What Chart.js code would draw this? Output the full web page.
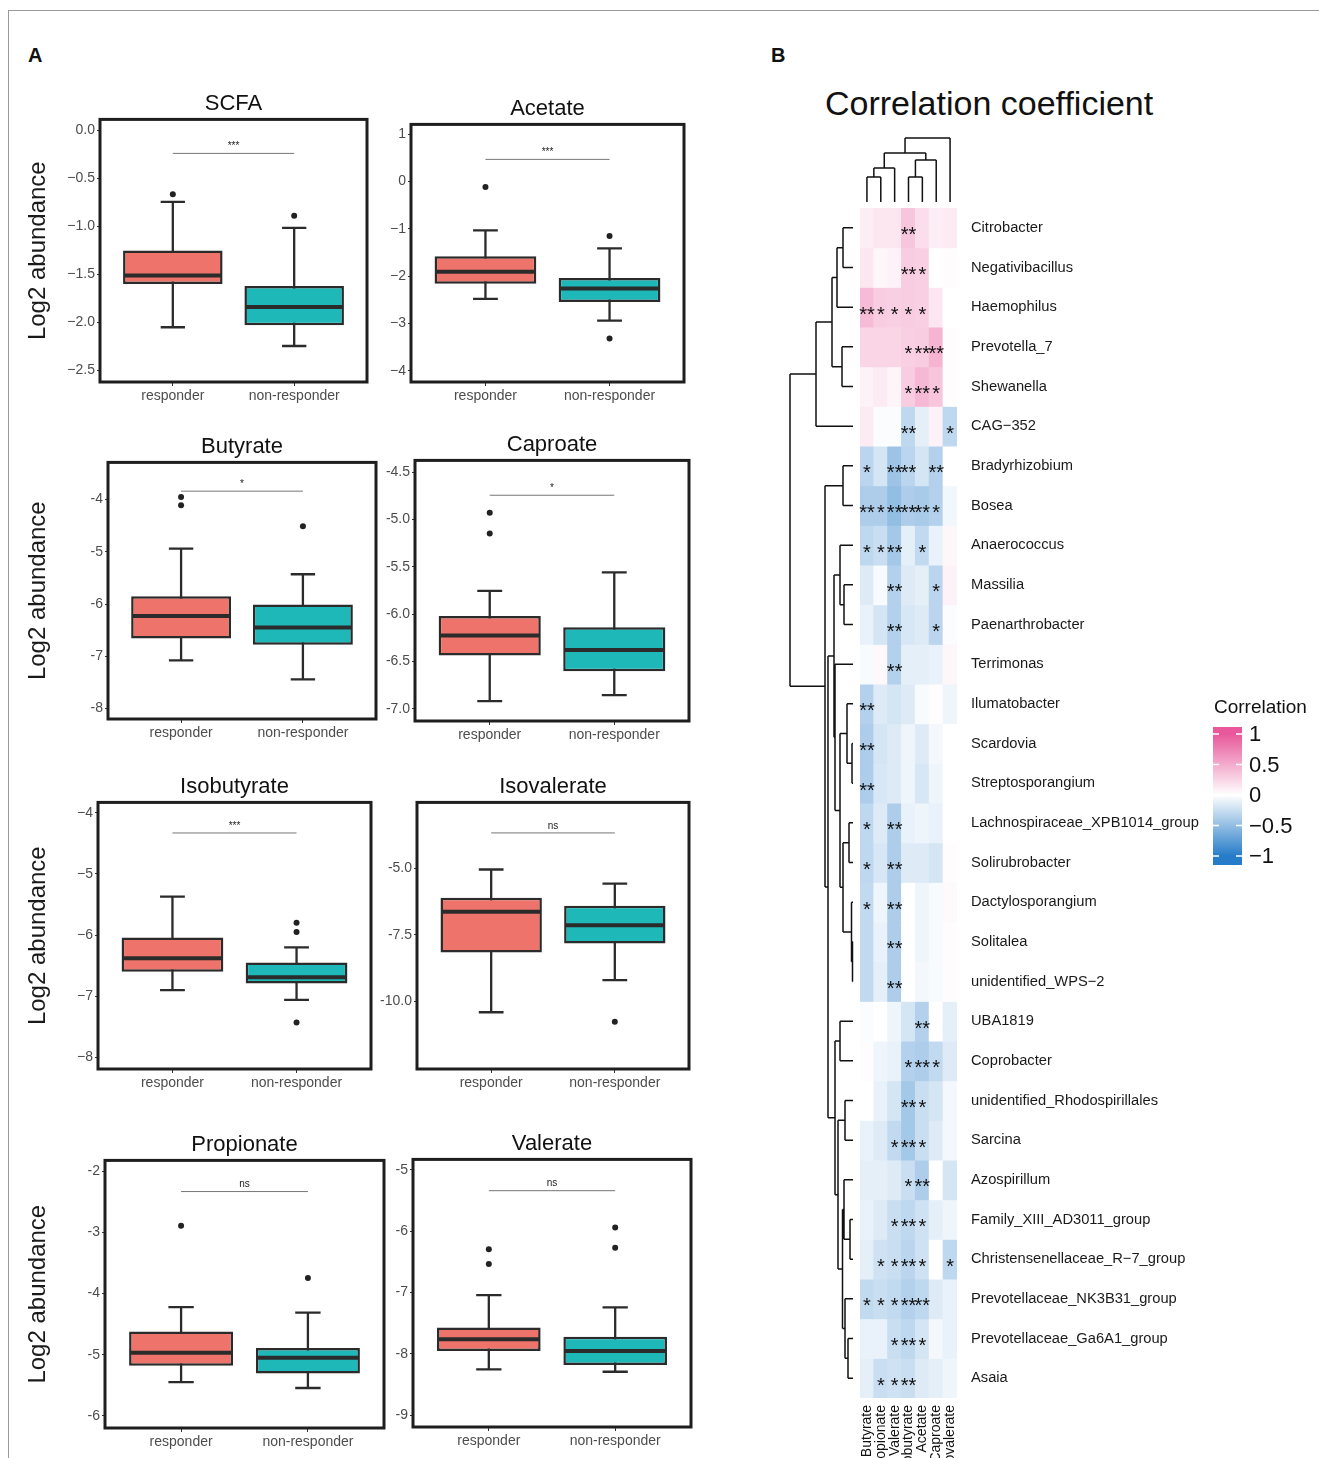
<!DOCTYPE html>
<html>
<head>
<meta charset="utf-8">
<title>SCFA boxplots and correlation heatmap</title>
<script src="https://cdn.jsdelivr.net/npm/chart.js@4.4.1/dist/chart.umd.min.js"></script>
<style>
  body { margin: 0; background: #fff; overflow: hidden; }
  #fig { position: relative; width: 1319px; height: 1458px; overflow: hidden; font-family: "Liberation Sans", Arial, sans-serif; }
  .frame { position: absolute; left: 8px; top: 10px; right: -2px; bottom: -2px; border-top: 1px solid #9a9a9a; border-left: 1px solid #9a9a9a; }
  .cell { position: absolute; }
  .tag { position: absolute; font-weight: bold; font-size: 20px; line-height: 20px; color: #111; }
  #heatTitle { position: absolute; left: 825px; top: 83px; font-size: 34px; line-height: 40px; color: #111; white-space: nowrap; }
</style>
</head>
<body>
<div id="fig">
  <div class="frame"></div>
  <div class="tag" style="left:28px;top:45px">A</div>
  <div class="tag" style="left:771px;top:45px">B</div>
  <div id="heatTitle">Correlation coefficient</div>
</div>
<script>
// ---------- panel A data ----------
const groups = ['responder', 'non-responder'];

// [lower whisker, Q1, median, Q3, upper whisker] for responder / non-responder
const scfaBox = [[-2.05, -1.60, -1.51, -1.25, -0.745], [-2.245, -2.03, -1.84, -1.62, -1.015]];
const scfaOut = [[-0.665], [-0.89]];
const acetateBox = [[-2.48, -2.16, -1.91, -1.58, -1.03], [-2.94, -2.545, -2.26, -2.04, -1.415]];
const acetateOut = [[-0.116], [-1.15, -3.32]];
const butyrateBox = [[-7.08, -6.66, -6.23, -5.85, -4.94], [-7.44, -6.78, -6.45, -6.01, -5.43]];
const butyrateOut = [[-3.95, -4.11], [-4.51]];
const caproateBox = [[-6.92, -6.437, -6.226, -6.02, -5.756], [-6.857, -6.605, -6.38, -6.14, -5.56]];
const caproateOut = [[-4.93, -5.15], []];
const isobutyrateBox = [[-6.9, -6.6, -6.38, -6.04, -5.37], [-7.06, -6.79, -6.69, -6.45, -6.2]];
const isobutyrateOut = [[], [-5.80, -5.95, -7.43]];
const isovalerateBox = [[-10.42, -8.17, -6.63, -6.1, -5.04], [-9.21, -7.83, -7.14, -6.41, -5.57]];
const isovalerateOut = [[], [-10.78]];
const propionateBox = [[-5.45, -5.18, -4.97, -4.62, -4.22], [-5.545, -5.31, -5.05, -4.89, -4.31]];
const propionateOut = [[-2.89], [-3.745]];
const valerateBox = [[-8.25, -7.95, -7.76, -7.57, -7.04], [-8.29, -8.18, -7.95, -7.72, -7.24]];
const valerateOut = [[-6.295, -6.535], [-5.94, -6.27]];

// axis ranges [min, max] and tick labels
const scfaRange = [-2.62, 0.114];
const scfaTicks = [0, -0.5, -1, -1.5, -2, -2.5];
const scfaTickLabels = ['0.0', '\u22120.5', '\u22121.0', '\u22121.5', '\u22122.0', '\u22122.5'];
const acetateRange = [-4.24, 1.21];
const acetateTicks = [1, 0, -1, -2, -3, -4];
const acetateTickLabels = ['1', '0', '\u22121', '\u22122', '\u22123', '\u22124'];
const butyrateRange = [-8.2, -3.29];
const butyrateTicks = [-4, -5, -6, -7, -8];
const butyrateTickLabels = ['-4', '-5', '-6', '-7', '-8'];
const caproateRange = [-7.13, -4.377];
const caproateTicks = [-4.5, -5, -5.5, -6, -6.5, -7];
const caproateTickLabels = ['-4.5', '-5.0', '-5.5', '-6.0', '-6.5', '-7.0'];
const isobutyrateRange = [-8.19, -3.83];
const isobutyrateTicks = [-4, -5, -6, -7, -8];
const isobutyrateTickLabels = ['\u22124', '\u22125', '\u22126', '\u22127', '\u22128'];
const isovalerateRange = [-12.56, -2.51];
const isovalerateTicks = [-5, -7.5, -10];
const isovalerateTickLabels = ['-5.0', '-7.5', '-10.0'];
const propionateRange = [-6.2, -1.82];
const propionateTicks = [-2, -3, -4, -5, -6];
const propionateTickLabels = ['-2', '-3', '-4', '-5', '-6'];
const valerateRange = [-9.19, -4.83];
const valerateTicks = [-5, -6, -7, -8, -9];
const valerateTickLabels = ['-5', '-6', '-7', '-8', '-9'];

const sigLevels = [-0.24, 0.47, -3.84, -4.745, -4.33, -3.66, -2.33, -5.34];
const sigLabels = ['***', '***', '*', '*', '***', 'ns', 'ns', 'ns'];

// ---------- panel B data ----------
const metabolites = ['Butyrate', 'Propionate', 'Valerate', 'Isobutyrate', 'Acetate', 'Caproate', 'Isovalerate'];
const genera = ['Citrobacter', 'Negativibacillus', 'Haemophilus', 'Prevotella_7', 'Shewanella', 'CAG\u2212352',
  'Bradyrhizobium', 'Bosea', 'Anaerococcus', 'Massilia', 'Paenarthrobacter', 'Terrimonas', 'Ilumatobacter',
  'Scardovia', 'Streptosporangium', 'Lachnospiraceae_XPB1014_group', 'Solirubrobacter', 'Dactylosporangium',
  'Solitalea', 'unidentified_WPS\u22122', 'UBA1819', 'Coprobacter', 'unidentified_Rhodospirillales', 'Sarcina',
  'Azospirillum', 'Family_XIII_AD3011_group', 'Christensenellaceae_R\u22127_group', 'Prevotellaceae_NK3B31_group',
  'Prevotellaceae_Ga6A1_group', 'Asaia'];

const corr = [
  [0.10, 0.15, 0.15, 0.35, 0.20, 0.10, 0.12],
  [0.15, 0.05, 0.08, 0.30, 0.28, 0.00, 0.02],
  [0.40, 0.30, 0.28, 0.30, 0.28, 0.15, 0.00],
  [0.25, 0.25, 0.25, 0.28, 0.30, 0.45, 0.02],
  [0.08, 0.12, 0.06, 0.30, 0.42, 0.35, 0.02],
  [0.12, -0.02, -0.02, -0.30, -0.12, 0.08, -0.30],
  [-0.32, -0.20, -0.45, -0.32, -0.20, -0.35, 0.00],
  [-0.38, -0.38, -0.50, -0.38, -0.40, -0.35, -0.06],
  [-0.30, -0.25, -0.42, -0.12, -0.28, -0.10, 0.05],
  [-0.15, -0.03, -0.35, -0.15, -0.12, -0.32, 0.08],
  [-0.10, -0.20, -0.35, -0.18, -0.15, -0.32, -0.02],
  [-0.03, 0.04, -0.35, -0.12, -0.12, -0.10, 0.05],
  [-0.35, -0.15, -0.20, -0.15, -0.03, 0.02, -0.08],
  [-0.38, -0.20, -0.15, -0.08, -0.15, -0.05, 0.00],
  [-0.38, -0.18, -0.15, -0.08, -0.18, -0.08, 0.00],
  [-0.30, -0.15, -0.38, -0.10, -0.08, -0.10, 0.00],
  [-0.30, -0.18, -0.38, -0.15, -0.15, -0.20, 0.02],
  [-0.28, -0.08, -0.38, 0.00, -0.08, -0.03, 0.03],
  [-0.28, -0.10, -0.38, 0.00, -0.08, -0.03, 0.02],
  [-0.28, -0.12, -0.38, 0.00, -0.05, -0.03, 0.02],
  [-0.02, 0.00, -0.08, -0.20, -0.35, 0.00, -0.12],
  [0.02, -0.08, -0.10, -0.35, -0.38, -0.28, -0.15],
  [0.00, -0.10, -0.20, -0.42, -0.25, -0.20, -0.05],
  [-0.10, -0.15, -0.28, -0.42, -0.25, -0.15, -0.05],
  [-0.12, -0.12, -0.15, -0.25, -0.38, 0.00, -0.20],
  [-0.10, -0.15, -0.25, -0.30, -0.22, -0.12, -0.08],
  [-0.12, -0.22, -0.25, -0.32, -0.22, 0.00, -0.30],
  [-0.28, -0.25, -0.28, -0.35, -0.30, -0.15, -0.10],
  [-0.10, -0.10, -0.25, -0.30, -0.20, -0.05, -0.10],
  [-0.12, -0.25, -0.22, -0.25, -0.15, -0.12, -0.08]
];

const stars = [
  ['', '', '', '**', '', '', ''],
  ['', '', '', '**', '*', '', ''],
  ['**', '*', '*', '*', '*', '', ''],
  ['', '', '', '*', '**', '**', ''],
  ['', '', '', '*', '**', '*', ''],
  ['', '', '', '**', '', '', '*'],
  ['*', '', '**', '**', '', '**', ''],
  ['**', '*', '**', '**', '**', '*', ''],
  ['*', '*', '**', '', '*', '', ''],
  ['', '', '**', '', '', '*', ''],
  ['', '', '**', '', '', '*', ''],
  ['', '', '**', '', '', '', ''],
  ['**', '', '', '', '', '', ''],
  ['**', '', '', '', '', '', ''],
  ['**', '', '', '', '', '', ''],
  ['*', '', '**', '', '', '', ''],
  ['*', '', '**', '', '', '', ''],
  ['*', '', '**', '', '', '', ''],
  ['', '', '**', '', '', '', ''],
  ['', '', '**', '', '', '', ''],
  ['', '', '', '', '**', '', ''],
  ['', '', '', '*', '**', '*', ''],
  ['', '', '', '**', '*', '', ''],
  ['', '', '*', '**', '*', '', ''],
  ['', '', '', '*', '**', '', ''],
  ['', '', '*', '**', '*', '', ''],
  ['', '*', '*', '**', '*', '', '*'],
  ['*', '*', '*', '**', '**', '', ''],
  ['', '', '*', '**', '*', '', ''],
  ['', '*', '*', '**', '', '', '']
];

// hierarchical merges [nodeA, nodeB, height]; leaves are 0..n-1, new nodes numbered n, n+1, ...
const rowMerges = [
  [0, 1, 10], [30, 2, 16], [3, 4, 11], [31, 32, 21], [33, 5, 37], [6, 7, 10],
  [9, 10, 9], [8, 36, 13], [13, 14, 1], [12, 38, 6], [15, 16, 4], [18, 19, 0.5],
  [17, 41, 1.5], [40, 42, 10], [39, 43, 13], [11, 44, 18], [37, 45, 19], [20, 21, 13],
  [22, 23, 8], [25, 26, 3], [24, 49, 9], [28, 29, 5], [27, 51, 8], [50, 52, 10.5],
  [48, 53, 15], [47, 54, 18], [46, 55, 25], [35, 56, 28], [34, 57, 63]
];
const colMerges = [[0, 1, 25], [7, 2, 34], [3, 4, 25], [9, 5, 42], [8, 10, 49], [11, 6, 64]];

const legendTicks = [1, 0.5, 0, -0.5, -1];
const legendTickLabels = ['1', '0.5', '0', '\u22120.5', '\u22121'];

// ---------- setup ----------
const FONT = '"Liberation Sans", Arial, Helvetica, sans-serif';
Chart.defaults.font.family = FONT;
Chart.defaults.devicePixelRatio = 1;

const fig = document.getElementById('fig');
const boxColors = ['#EE746B', '#1FB8B9'];
const capWidth = 0.2;

const panels = [
  { name: 'SCFA', box: scfaBox, out: scfaOut, range: scfaRange, ticks: scfaTicks, labels: scfaTickLabels },
  { name: 'Acetate', box: acetateBox, out: acetateOut, range: acetateRange, ticks: acetateTicks, labels: acetateTickLabels },
  { name: 'Butyrate', box: butyrateBox, out: butyrateOut, range: butyrateRange, ticks: butyrateTicks, labels: butyrateTickLabels },
  { name: 'Caproate', box: caproateBox, out: caproateOut, range: caproateRange, ticks: caproateTicks, labels: caproateTickLabels },
  { name: 'Isobutyrate', box: isobutyrateBox, out: isobutyrateOut, range: isobutyrateRange, ticks: isobutyrateTicks, labels: isobutyrateTickLabels },
  { name: 'Isovalerate', box: isovalerateBox, out: isovalerateOut, range: isovalerateRange, ticks: isovalerateTicks, labels: isovalerateTickLabels },
  { name: 'Propionate', box: propionateBox, out: propionateOut, range: propionateRange, ticks: propionateTicks, labels: propionateTickLabels },
  { name: 'Valerate', box: valerateBox, out: valerateOut, range: valerateRange, ticks: valerateTicks, labels: valerateTickLabels }
];

// where each plot panel sits on the page
const panelRects = [
  { x: 100, y: 119, w: 267, h: 263 }, { x: 411, y: 124, w: 273, h: 258 },
  { x: 108, y: 462, w: 268, h: 257 }, { x: 415, y: 460, w: 274, h: 261 },
  { x: 98, y: 802, w: 273, h: 267 }, { x: 417, y: 802, w: 272, h: 267 },
  { x: 105, y: 1160, w: 279, h: 268 }, { x: 413, y: 1159, w: 278, h: 268 }
];

function boxExtras(p, sigY, sigText) {
  return {
    id: 'boxExtras',
    beforeDatasetsDraw(chart) {
      const { ctx, scales: { x, y } } = chart;
      const half = Math.abs(x.getPixelForValue(1 + capWidth / 2) - x.getPixelForValue(1));
      ctx.save();
      ctx.strokeStyle = '#2b2b2b';
      ctx.lineWidth = 2.3;
      p.box.forEach((s, g) => {
        const cx = x.getPixelForValue(g + 1);
        const lo = y.getPixelForValue(s[0]);
        const hi = y.getPixelForValue(s[4]);
        ctx.beginPath();
        ctx.moveTo(cx, lo); ctx.lineTo(cx, hi);
        ctx.moveTo(cx - half, lo); ctx.lineTo(cx + half, lo);
        ctx.moveTo(cx - half, hi); ctx.lineTo(cx + half, hi);
        ctx.stroke();
      });
      ctx.restore();
    },
    afterDatasetsDraw(chart) {
      const { ctx, scales: { y } } = chart;
      const bars = chart.getDatasetMeta(0).data;
      ctx.save();
      ctx.strokeStyle = '#2b2b2b';
      ctx.lineWidth = 4;
      p.box.forEach((s, g) => {
        const b = bars[g];
        const my = y.getPixelForValue(s[2]);
        ctx.beginPath();
        ctx.moveTo(b.x - b.width / 2 + 1, my);
        ctx.lineTo(b.x + b.width / 2 - 1, my);
        ctx.stroke();
      });
      ctx.restore();
    },
    afterDraw(chart) {
      const { ctx, chartArea: a, scales: { x, y } } = chart;
      ctx.save();
      ctx.strokeStyle = '#1e1e1e';
      ctx.lineWidth = 3;
      ctx.strokeRect(a.left, a.top, a.width, a.height);
      // significance bracket
      const sy = y.getPixelForValue(sigY);
      const x1 = x.getPixelForValue(1), x2 = x.getPixelForValue(2);
      ctx.strokeStyle = '#666';
      ctx.lineWidth = 0.9;
      ctx.beginPath();
      ctx.moveTo(x1, sy); ctx.lineTo(x2, sy);
      ctx.stroke();
      ctx.fillStyle = '#222';
      ctx.font = '10px ' + FONT;
      ctx.textAlign = 'center';
      ctx.textBaseline = 'bottom';
      ctx.fillText(sigText, (x1 + x2) / 2, sy - 2);
      ctx.restore();
    }
  };
}

function boxChart(i) {
  const p = panels[i];
  const r = panelRects[i];
  const isLeft = i % 2 === 0;
  const axisW = isLeft ? r.x - 20 : 44;

  const wrap = document.createElement('div');
  wrap.className = 'cell';
  fig.appendChild(wrap);
  const canvas = document.createElement('canvas');
  canvas.width = axisW + r.w + 6;
  canvas.height = Math.round(28.4 + r.h + 34);
  wrap.appendChild(canvas);

  const outPoints = [];
  p.out.forEach((vals, g) => vals.forEach(v => outPoints.push({ x: g + 1, y: v })));

  const chart = new Chart(canvas, {
    type: 'bar',
    data: {
      datasets: [
        {
          data: p.box.map((s, g) => ({ x: g + 1, y: [s[1], s[3]] })),
          backgroundColor: boxColors,
          borderColor: '#2b2b2b',
          borderWidth: 2.5,
          borderSkipped: false,
          barPercentage: 0.82,
          categoryPercentage: 1
        },
        {
          type: 'scatter',
          data: outPoints,
          pointRadius: 3,
          pointBackgroundColor: '#222',
          pointBorderWidth: 0
        }
      ]
    },
    options: {
      responsive: false,
      animation: false,
      events: [],
      layout: { padding: { left: 0, right: 6, top: 0, bottom: 4 } },
      plugins: {
        legend: { display: false },
        tooltip: { enabled: false },
        title: {
          display: true, text: p.name, fullSize: false,
          color: '#111', font: { size: 22, weight: 'normal' },
          padding: { top: 0, bottom: 2 }
        }
      },
      scales: {
        x: {
          type: 'linear', min: 0.4, max: 2.6, offset: false,
          afterBuildTicks: s => { s.ticks = groups.map((g, k) => ({ value: k + 1 })); },
          afterFit: s => { s.height = 30; },
          ticks: { callback: (v, k) => groups[k], color: '#4d4d4d', font: { size: 14 }, padding: 2, autoSkip: false, maxRotation: 0 },
          grid: { drawOnChartArea: false, tickLength: 4, color: '#333', offset: false },
          border: { display: false }
        },
        y: {
          type: 'linear', min: p.range[0], max: p.range[1],
          afterBuildTicks: s => { s.ticks = p.ticks.map(v => ({ value: v })); },
          afterFit: s => { s.width = axisW; },
          ticks: { callback: (v, k) => p.labels[k], color: '#4d4d4d', font: { size: 14 }, padding: 2, autoSkip: false },
          grid: { drawOnChartArea: false, tickLength: 3, color: '#333' },
          border: { display: false },
          title: {
            display: isLeft, text: 'Log2 abundance', color: '#1a1a1a',
            font: { size: 24 }, padding: { top: 4, bottom: 0 }
          }
        }
      }
    },
    plugins: [boxExtras(p, sigLevels[i], sigLabels[i])]
  });

  wrap.style.left = (r.x - chart.chartArea.left) + 'px';
  wrap.style.top = (r.y - chart.chartArea.top) + 'px';
}

panels.forEach((p, i) => boxChart(i));

// ---------- panel B ----------
function corrColor(v) {
  const t = Math.min(1, Math.abs(v));
  const end = v >= 0 ? [232, 88, 155] : [38, 124, 200];
  const c = end.map(e => Math.round(255 + (e - 255) * t));
  return 'rgb(' + c.join(',') + ')';
}

function drawTree(ctx, merges, nLeaves, leafPos, depth, alongX) {
  const pos = [];
  const hgt = [];
  for (let i = 0; i < nLeaves; i++) { pos.push(leafPos(i)); hgt.push(0); }
  ctx.beginPath();
  merges.forEach(([a, b, h]) => {
    const d = depth(h), da = depth(hgt[a]), db = depth(hgt[b]);
    if (alongX) {
      ctx.moveTo(d, pos[a]); ctx.lineTo(d, pos[b]);
      ctx.moveTo(d, pos[a]); ctx.lineTo(da, pos[a]);
      ctx.moveTo(d, pos[b]); ctx.lineTo(db, pos[b]);
    } else {
      ctx.moveTo(pos[a], d); ctx.lineTo(pos[b], d);
      ctx.moveTo(pos[a], d); ctx.lineTo(pos[a], da);
      ctx.moveTo(pos[b], d); ctx.lineTo(pos[b], db);
    }
    pos.push((pos[a] + pos[b]) / 2);
    hgt.push(h);
  });
  ctx.stroke();
}

const heatExtras = {
  id: 'heatExtras',
  afterDatasetsDraw(chart) {
    const { ctx, chartArea: ca, scales: { x, y } } = chart;
    ctx.save();
    ctx.fillStyle = '#111';
    ctx.font = '20px ' + FONT;
    ctx.textAlign = 'center';
    ctx.textBaseline = 'middle';
    stars.forEach((row, r) => row.forEach((s, c) => {
      if (s) ctx.fillText(s, x.getPixelForValue(c), y.getPixelForValue(r + 0.5) + 8);
    }));
    ctx.restore();

    ctx.save();
    ctx.strokeStyle = '#111';
    ctx.lineWidth = 1.5;
    const rowLeaf = ca.left - 7;
    drawTree(ctx, rowMerges, genera.length, i => y.getPixelForValue(i + 0.5), h => rowLeaf - h, true);
    const colLeaf = ca.top - 6;
    drawTree(ctx, colMerges, metabolites.length, i => x.getPixelForValue(i), h => colLeaf - h, false);
    ctx.restore();
  },
  afterDraw(chart) {
    const { ctx } = chart;
    const lx = 453, lw = 29, top = 687, bottom = 825, zeroY = 755, unit = 61;
    ctx.save();
    for (let py = top; py < bottom; py++) {
      ctx.fillStyle = corrColor((zeroY - (py + 0.5)) / unit);
      ctx.fillRect(lx, py, lw, 1);
    }
    ctx.strokeStyle = '#fff';
    ctx.lineWidth = 1.5;
    ctx.fillStyle = '#111';
    ctx.font = '22px ' + FONT;
    ctx.textAlign = 'left';
    ctx.textBaseline = 'middle';
    legendTicks.forEach((v, k) => {
      const ty = zeroY - v * unit;
      ctx.beginPath();
      ctx.moveTo(lx, ty); ctx.lineTo(lx + 6, ty);
      ctx.moveTo(lx + lw - 6, ty); ctx.lineTo(lx + lw, ty);
      ctx.stroke();
      ctx.fillText(legendTickLabels[k], lx + lw + 7, ty + 1);
    });
    ctx.font = '19px ' + FONT;
    ctx.fillText('Correlation', lx + 1, 668);
    ctx.restore();
  }
};

const heatWrap = document.createElement('div');
heatWrap.className = 'cell';
heatWrap.style.left = '760px';
heatWrap.style.top = '40px';
fig.appendChild(heatWrap);
const heatCanvas = document.createElement('canvas');
heatCanvas.width = 559;
heatCanvas.height = 1460;
heatWrap.appendChild(heatCanvas);

new Chart(heatCanvas, {
  type: 'bar',
  data: {
    labels: metabolites,
    datasets: genera.map((g, r) => ({
      label: g,
      data: metabolites.map(() => [r, r + 1]),
      backgroundColor: corr[r].map(corrColor),
      borderWidth: 0,
      barPercentage: 1,
      categoryPercentage: 1,
      grouped: false,
      inflateAmount: 0.5
    }))
  },
  options: {
    responsive: false,
    animation: false,
    events: [],
    layout: { padding: { left: 100, top: 168, right: 112, bottom: 0 } },
    plugins: { legend: { display: false }, tooltip: { enabled: false } },
    scales: {
      x: {
        type: 'category',
        afterFit: s => { s.height = 102; },
        ticks: { autoSkip: false, minRotation: 90, maxRotation: 90, color: '#111', font: { size: 14 }, padding: 7 },
        grid: { display: false, drawTicks: false },
        border: { display: false }
      },
      y: {
        type: 'linear', position: 'right', reverse: true, min: 0, max: genera.length,
        afterBuildTicks: s => { s.ticks = genera.map((g, i) => ({ value: i + 0.5 })); },
        afterFit: s => { s.width = 250; },
        ticks: { callback: (v, i) => genera[i], autoSkip: false, color: '#1a1a1a', font: { size: 14.7 }, padding: 14 },
        grid: { display: false, drawTicks: false },
        border: { display: false }
      }
    }
  },
  plugins: [heatExtras]
});
</script>
</body>
</html>
